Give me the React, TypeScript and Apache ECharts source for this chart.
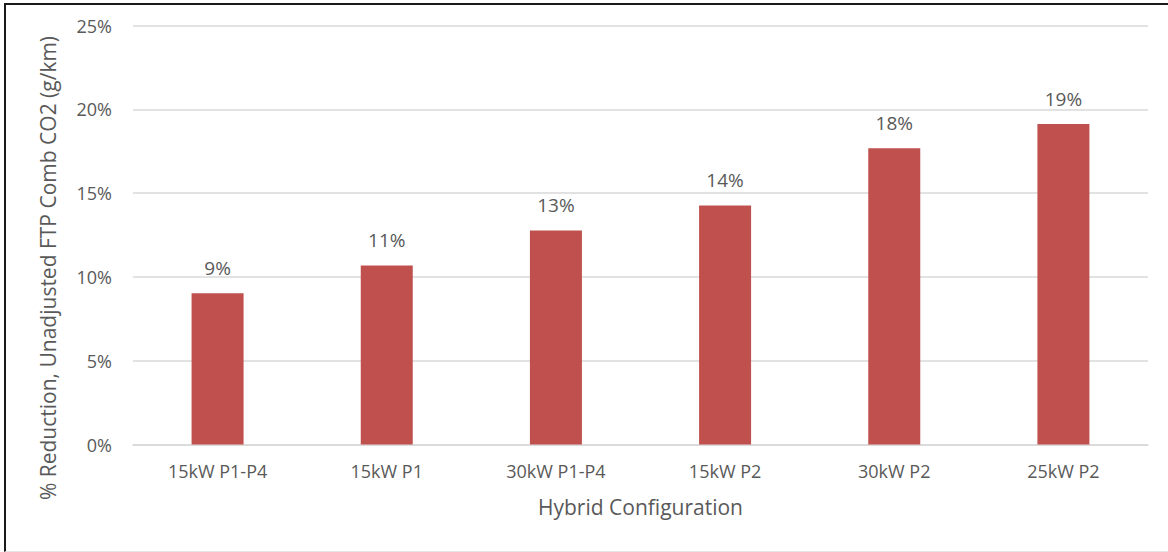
import React, { useEffect, useRef } from "react";
import * as echarts from "echarts";

// Hybrid configurations and their CO2 reduction (%)
const configurations = ["15kW P1-P4", "15kW P1", "30kW P1-P4", "15kW P2", "30kW P2", "25kW P2"];
const reductionPct = [9.02, 10.68, 12.77, 14.26, 17.67, 19.12];
const yTicks = { min: 0, max: 25, interval: 5 };
const yTitle = "% Reduction, Unadjusted FTP Comb CO2 (g/km)";
const xTitle = "Hybrid Configuration";

const FONT = "'Open Sans', sans-serif";
const TEXT = "#595959";
const GRID = "#D9D9D9";
const BAR = "#C0504D";

export default function App() {
  const ref = useRef<HTMLDivElement>(null);

  useEffect(() => {
    if (!ref.current) return;
    const chart = echarts.init(ref.current, null, { renderer: "svg" });
    chart.setOption({
      animation: false,
      backgroundColor: "transparent",
      grid: { left: 133, right: 20, top: 25.5, bottom: 107.5, containLabel: false },
      graphic: [
        {
          type: "text",
          x: 48,
          y: 268,
          rotation: Math.PI / 2,
          style: {
            text: yTitle,
            fill: TEXT,
            font: `21px ${FONT}`,
            textAlign: "center",
            textVerticalAlign: "middle",
          },
        },
      ],
      xAxis: {
        type: "category",
        data: configurations,
        name: xTitle,
        nameLocation: "middle",
        nameGap: 52,
        nameTextStyle: { color: TEXT, fontFamily: FONT, fontSize: 21 },
        axisLine: { lineStyle: { color: GRID, width: 1.5 } },
        axisTick: { show: false },
        axisLabel: { color: TEXT, fontFamily: FONT, fontSize: 18, margin: 17 },
      },
      yAxis: {
        type: "value",
        min: yTicks.min,
        max: yTicks.max,
        interval: yTicks.interval,
        axisLine: { show: false },
        axisTick: { show: false },
        axisLabel: { color: TEXT, fontFamily: FONT, fontSize: 18, margin: 21, formatter: "{value}%" },
        splitLine: { lineStyle: { color: GRID, width: 1.5 } },
      },
      series: [
        {
          type: "bar",
          data: reductionPct,
          barWidth: 52,
          itemStyle: { color: BAR },
          label: {
            show: true,
            position: "top",
            distance: 16,
            color: TEXT,
            fontFamily: FONT,
            fontSize: 19,
            formatter: (p: any) => `${Math.round(p.value)}%`,
          },
        },
      ],
    });
    return () => chart.dispose();
  }, []);

  return (
    <div style={{ position: "fixed", left: 0, top: 0, width: 1168, height: 552, background: "#fff" }}>
      <div
        style={{
          position: "absolute",
          left: 4,
          top: 3,
          right: 0,
          bottom: 0,
          borderLeft: "2px solid #1a1a1a",
          borderTop: "2px solid #1a1a1a",
          borderBottom: "1px solid #e6e6e6",
          boxSizing: "border-box",
        }}
      />
      <div ref={ref} style={{ position: "absolute", left: 0, top: 0, width: 1168, height: 552 }} />
    </div>
  );
}
